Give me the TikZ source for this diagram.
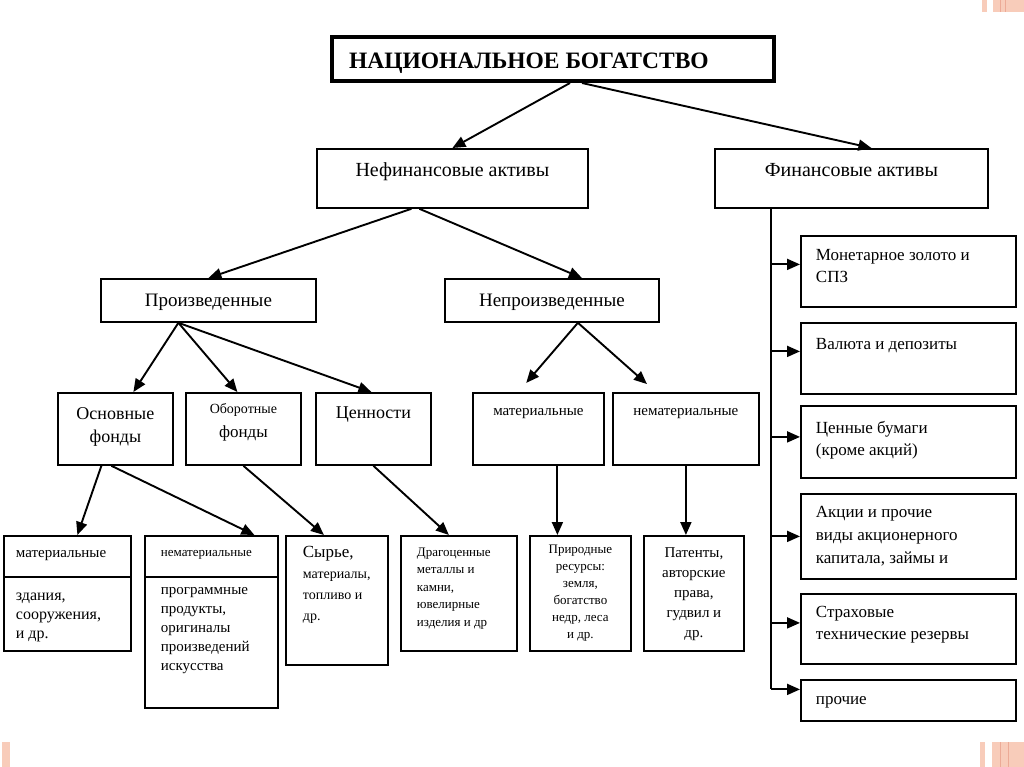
\documentclass[tikz,border=0pt]{standalone}
\usepackage{fontspec}
\setmainfont{Liberation Serif}
\usetikzlibrary{arrows.meta}
\definecolor{deco}{RGB}{248,204,186}
\definecolor{decodark}{RGB}{236,170,150}
% width, height, top pad, alignment, font size, baselineskip, text
\newcommand{\boxcell}[7]{\parbox[c][#2pt][t]{#1pt}{\vspace*{#3pt}#4\fontsize{#5pt}{#6pt}\selectfont\strut#7\par}}
\newcommand{\padl}[1]{\raggedright\leftskip=#1pt\relax}
\newcommand{\fsz}[2]{\fontsize{#1pt}{#2pt}\selectfont}

\begin{document}
\begin{tikzpicture}[x=1pt,y=-1pt,
    box/.style={draw, line width=1.8pt, anchor=north west, inner sep=0pt},
    ttl/.style={box, line width=4pt},
    conn/.style={line width=1.9pt},
    arr/.style={conn, -{Triangle[length=13pt,width=11pt]}}]
\useasboundingbox (0,0) rectangle (1024,767);

% slide corners
\fill[deco] (982,0) rectangle (987,12);
\fill[deco] (993,0) rectangle (1024,12);
\fill[decodark] (1000,0) rectangle (1001,12);
\fill[decodark] (1005,0) rectangle (1006,12);
\fill[deco] (980,742) rectangle (985,767);
\fill[deco] (992,742) rectangle (1024,767);
\fill[decodark] (1000,742) rectangle (1001,767);
\fill[decodark] (1008,742) rectangle (1009,767);
\fill[deco] (2,742) rectangle (10,767);

\node[ttl] (nb) at (330,35) {\boxcell{442}{44}{13}{\padl{17}}{23.5}{27}{\bfseries НАЦИОНАЛЬНОЕ БОГАТСТВО}};

\node[box] (nfa) at (316,148) {\boxcell{271}{59}{11}{\centering}{20}{24}{Нефинансовые активы}};
\node[box] (fa) at (714,148) {\boxcell{273}{59}{11}{\centering}{20}{24}{Финансовые активы}};

\node[box] (pr) at (100,278) {\boxcell{215}{43}{11}{\centering}{19}{23}{Произведенные}};
\node[box] (npr) at (444,278) {\boxcell{214}{43}{11}{\centering}{19}{23}{Непроизведенные}};

\node[box] (osn) at (57,392) {\boxcell{115}{72}{10}{\centering}{18}{23}{Основные\\ фонды}};
\node[box] (ob) at (185,392) {\boxcell{115}{72}{9}{\centering}{14}{17}{Оборотные\par\fsz{17}{24}фонды}};
\node[box] (cen) at (315,392) {\boxcell{115}{72}{9}{\centering}{18}{23}{Ценности}};
\node[box] (mat1) at (472,392) {\boxcell{131}{72}{10}{\centering}{15}{18}{материальные}};
\node[box] (nem1) at (612,392) {\boxcell{146}{72}{10}{\centering}{15}{18}{нематериальные}};

\node[box] (matb) at (3,535) {\boxcell{127}{115}{9}{\padl{12}}{15}{18}{материальные\par\vspace{24pt}\fsz{16}{19}здания,\\ сооружения,\\ и др.}};
\node[box] (nemb) at (144,535) {\boxcell{133}{172}{9}{\padl{16}}{13}{16}{нематериальные\par\vspace{19pt}\fsz{15}{19}программные\\ продукты,\\ оригиналы\\ произведений\\ искусства}};
\node[box] (syr) at (285,535) {\boxcell{102}{129}{8}{\padl{17}}{17}{20}{Сырье,\par\fsz{14}{21}материалы,\\ топливо и\\ др.}};
\node[box] (dr) at (400,535) {\boxcell{116}{115}{8}{\padl{16}}{13}{17.5}{Драгоценные\\ металлы и\\ камни,\\ ювелирные\\ изделия и др}};
\node[box] (prir) at (529,535) {\boxcell{101}{115}{6}{\centering}{13}{17}{Природные\\ ресурсы:\\ земля,\\ богатство\\ недр, леса\\ и др.}};
\node[box] (pat) at (643,535) {\boxcell{100}{115}{8}{\centering}{15}{20}{Патенты,\\ авторские\\ права,\\ гудвил и\\ др.}};

\draw[conn] ([yshift=-42pt]matb.north west) -- ([yshift=-42pt]matb.north east);
\draw[conn] ([yshift=-42pt]nemb.north west) -- ([yshift=-42pt]nemb.north east);

\node[box] (mz) at (800,235) {\boxcell{215}{71}{9}{\padl{15}}{17}{22}{Монетарное золото и\\ СПЗ}};
\node[box] (val) at (800,322) {\boxcell{215}{71}{11}{\padl{15}}{17}{22}{Валюта и депозиты}};
\node[box] (cb) at (800,405) {\boxcell{215}{72}{12}{\padl{15}}{17}{22}{Ценные бумаги\\ (кроме акций)}};
\node[box] (ak) at (800,493) {\boxcell{215}{85}{7}{\padl{15}}{17}{23}{Акции и прочие\\ виды акционерного\\ капитала, займы и}};
\node[box] (str) at (800,593) {\boxcell{215}{70}{8}{\padl{15}}{17}{22}{Страховые\\ технические резервы}};
\node[box] (proch) at (800,679) {\boxcell{215}{41}{9}{\padl{15}}{17}{22}{прочие}};

% connectors
\draw[arr] ([xshift=17pt]nb.south) -- (nfa.north);
\draw[arr] ([xshift=29pt]nb.south) -- ([xshift=20pt]fa.north);

\draw[arr] ([xshift=-41pt]nfa.south) -- (pr.north);
\draw[arr] ([xshift=-33pt]nfa.south) -- ([xshift=30pt]npr.north);

\draw[arr] ([xshift=-30pt]pr.south) -- ([xshift=18pt]osn.north);
\draw[arr] ([xshift=-30pt]pr.south) -- ([xshift=-6pt]ob.north);
\draw[arr] ([xshift=-30pt]pr.south) -- ([xshift=-2pt]cen.north);

\draw[arr, shorten >=12pt] ([xshift=26pt]npr.south) -- ([xshift=-20pt]mat1.north);
\draw[arr, shorten >=12pt] ([xshift=26pt]npr.south) -- ([xshift=-30pt]nem1.north);

\draw[arr] ([xshift=-14pt]osn.south) -- ([xshift=10pt]matb.north);
\draw[arr] ([xshift=-4pt]osn.south) -- ([xshift=43pt]nemb.north);
\draw[arr] (ob.south) -- ([xshift=-13pt]syr.north);
\draw[arr] (cen.south) -- ([xshift=-10pt]dr.north);
\draw[arr] ([xshift=19pt]mat1.south) -- ([xshift=19pt]mat1.south |- prir.north);
\draw[arr] (nem1.south) -- (nem1.south |- pat.north);

\coordinate (trunk) at ([xshift=57pt]fa.south west);
\draw[conn] (trunk) -- ([yshift=11pt]trunk |- proch.west);
\foreach \b/\s in {mz/7,val/7,cb/5,ak/0,str/6,proch/11}
  \draw[arr] ([yshift=\s pt]trunk |- \b.west) -- ([yshift=\s pt]\b.west);
\end{tikzpicture}
\end{document}
